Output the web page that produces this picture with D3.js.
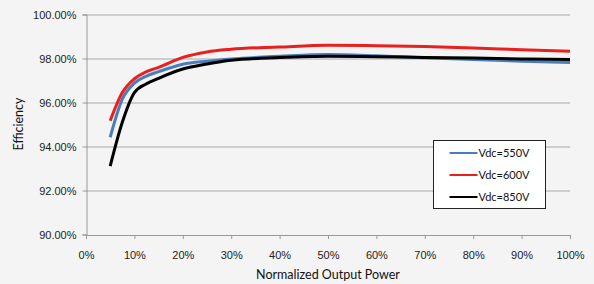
<!DOCTYPE html>
<html>
<head>
<meta charset="utf-8">
<script src="https://cdn.jsdelivr.net/npm/d3@7"></script>
<style>
  body { margin: 0; background: #f4f4f4; }
  svg { display: block; font-family: Lato, 'Liberation Sans', sans-serif; }
  .tick text { font-size: 11px; fill: #222; }
  .axisTitle { font-size: 12.5px; fill: #111; }
  .legendText { font-size: 11px; fill: #111; }
</style>
</head>
<body>
<div id="chart"></div>
<script>
'use strict';
// Normalized output power (%)
const power = [5, 7.5, 10, 12.5, 15, 20, 25, 30, 40, 50, 60, 70, 80, 90, 100]
// Efficiency (%) per DC link voltage
const eff550 = [94.42, 96.15, 96.88, 97.2, 97.4, 97.74, 97.88, 97.98, 98.1, 98.18, 98.12, 98.03, 97.95, 97.88, 97.82]
const eff600 = [95.17, 96.45, 97.08, 97.4, 97.6, 98.05, 98.3, 98.42, 98.52, 98.6, 98.58, 98.54, 98.48, 98.4, 98.33]
const eff850 = [93.11, 95.1, 96.45, 96.85, 97.1, 97.52, 97.75, 97.92, 98.04, 98.1, 98.08, 98.05, 98.02, 97.98, 97.95]
const seriesNames = ['Vdc=550V', 'Vdc=600V', 'Vdc=850V']
const seriesColors = ['#4a7ebb', '#e8201e', '#000000']
const xTicks = [0, 10, 20, 30, 40, 50, 60, 70, 80, 90, 100]
const yTicks = [90, 92, 94, 96, 98, 100]

const W = 594, H = 284
const margin = { top: 14.5, right: 24, bottom: 49.5, left: 86 }
const width = W - margin.left - margin.right
const height = H - margin.top - margin.bottom

const svg = d3.select('#chart').append('svg')
    .attr('width', W)
    .attr('height', H)
const g = svg.append('g')
    .attr('transform', `translate(${margin.left},${margin.top})`)

const x = d3.scaleLinear().domain([0, 100]).range([0, width])
const y = d3.scaleLinear().domain([90, 100]).range([height, 0])

g.append('g') // horizontal grid lines
    .selectAll('line').data(yTicks.filter(d => d > 90)).enter().append('line')
    .attr('x1', 0).attr('x2', width)
    .attr('y1', d => Math.round(y(d)) + 0.5).attr('y2', d => Math.round(y(d)) + 0.5)
    .attr('stroke', '#a6a6a6').attr('stroke-width', 1)

const yAxis = g.append('g') // y axis
    .attr('transform', 'translate(0.5,0)')
    .call(d3.axisLeft(y).tickValues(yTicks).tickSize(4).tickPadding(6)
        .tickFormat(d => d.toFixed(2) + '%'))
yAxis.select('.domain').attr('stroke', '#999')
yAxis.selectAll('.tick line').attr('stroke', '#999')
yAxis.selectAll('.tick').attr('transform', d => `translate(0,${Math.round(y(d)) + 0.5})`)

const xAxis = g.append('g') // x axis
    .attr('transform', `translate(0,${Math.round(height) + 0.5})`)
    .call(d3.axisBottom(x).tickValues(xTicks).tickSize(4).tickSizeOuter(0).tickPadding(12)
        .tickFormat(d => d + '%'))
xAxis.select('.domain').attr('stroke', '#999')
xAxis.selectAll('.tick line').attr('stroke', '#999')

const line = d3.line()
    .x(d => x(d[0]))
    .y(d => y(d[1]))
    .curve(d3.curveMonotoneX)

const allSeries = [eff550, eff600, eff850]
allSeries.forEach((vals, i) => {
    g.append('path').datum(power.map((p, j) => [p, vals[j]]))
        .attr('fill', 'none')
        .attr('stroke', seriesColors[i])
        .attr('stroke-width', 3)
        .attr('stroke-linejoin', 'round')
        .attr('d', line)
})

svg.append('text') // x axis title
    .attr('class', 'axisTitle')
    .attr('x', margin.left + width / 2)
    .attr('y', 279)
    .attr('text-anchor', 'middle')
    .text('Normalized Output Power')

svg.append('text') // y axis title
    .attr('class', 'axisTitle')
    .attr('transform', 'rotate(-90)')
    .attr('x', -124)
    .attr('y', 23)
    .attr('text-anchor', 'middle')
    .text('Efficiency')

const legend = svg.append('g') // legend
    .attr('transform', 'translate(433.5,140.5)')
legend.append('rect')
    .attr('width', 112).attr('height', 68)
    .attr('fill', '#ffffff').attr('stroke', '#222').attr('stroke-width', 1)
seriesNames.forEach((name, i) => {
    const ly = 12.5 + i * 22
    legend.append('line')
        .attr('x1', 16).attr('x2', 44)
        .attr('y1', ly).attr('y2', ly)
        .attr('stroke', seriesColors[i]).attr('stroke-width', 2)
    legend.append('text')
        .attr('class', 'legendText')
        .attr('x', 45).attr('y', ly + 4)
        .text(name)
})
</script>
</body>
</html>
